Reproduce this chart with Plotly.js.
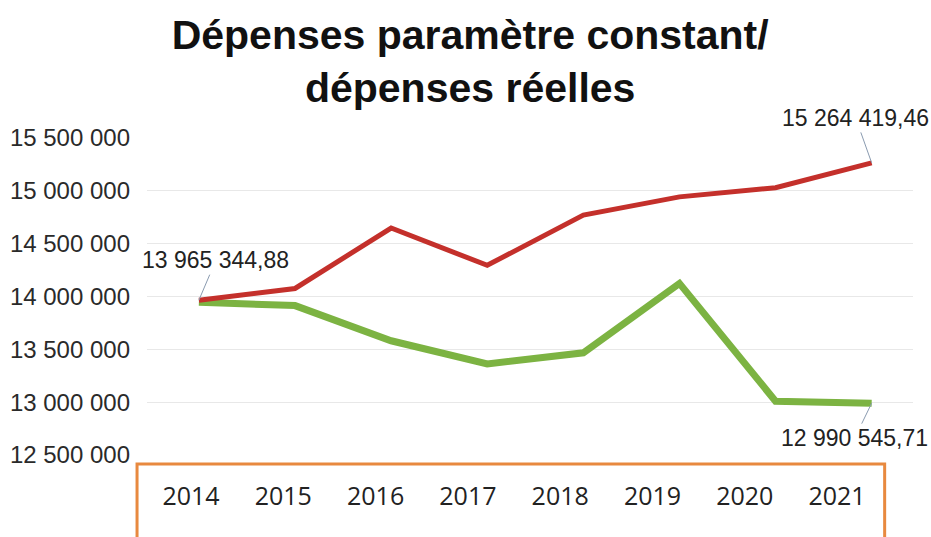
<!DOCTYPE html>
<html>
<head>
<meta charset="utf-8">
<script src="https://cdn.plot.ly/plotly-3.0.1.min.js"></script>
<style>html,body{margin:0;padding:0;background:#fff;}#chart{width:931px;height:537px;}</style>
</head>
<body>
<div id="chart"></div>
<script>
const years = ["2014","2015","2016","2017","2018","2019","2020","2021"];
const depensesReelles = [13965344.88, 14076000, 14648000, 14295000, 14771000, 14943000, 15029000, 15264419.46];
const depensesParamConstant = [13945000, 13914000, 13581000, 13362000, 13467000, 14124000, 13009000, 12990545.71];
const yTicks = [12500000, 13000000, 13500000, 14000000, 14500000, 15000000, 15500000];
const labelFirst = "13 965 344,88";
const labelRedLast = "15 264 419,46";
const labelGreenLast = "12 990 545,71";

const traces = [
  {x: years, y: depensesParamConstant, type: "scatter", mode: "lines",
   line: {color: "#7cb342", width: 7}, hoverinfo: "skip", showlegend: false},
  {x: years, y: depensesReelles, type: "scatter", mode: "lines",
   line: {color: "#c4302b", width: 5}, hoverinfo: "skip", showlegend: false},
  {x: years, y: years.map(() => null), xaxis: "x2", type: "scatter", mode: "lines",
   hoverinfo: "skip", showlegend: false}
];

const annFont = {family: "Liberation Sans, Arial, sans-serif", size: 23, color: "#222"};
const iFirst = 0, iLast = years.length - 1;
const layout = {
  width: 931, height: 537,
  margin: {l: 147, r: 18, t: 138, b: 82},
  paper_bgcolor: "#fff", plot_bgcolor: "#fff",
  separators: ", ",
  title: {
    text: "<b>Dépenses paramètre constant/<br>dépenses réelles</b>",
    font: {family: "Liberation Sans, Arial, sans-serif", size: 41, color: "#111"},
    xref: "container", x: 0.505, xanchor: "center",
    yref: "container", y: 0.909, yanchor: "top"
  },
  xaxis: {
    type: "category", range: [-0.54, 7.43],
    showticklabels: false, showgrid: false, zeroline: false, showline: false, ticks: ""
  },
  xaxis2: {
    type: "category", overlaying: "x", anchor: "y", side: "bottom",
    range: [-0.477, 7.823],
    showgrid: false, zeroline: false, showline: false, ticks: "",
    tickfont: {family: "Open Sans, sans-serif", size: 25, color: "#222"},
    ticklabelstandoff: 24
  },
  yaxis: {
    range: [12500000, 15500000],
    tickvals: yTicks, tickformat: ",d",
    showgrid: true, gridcolor: "#e8e8e8", gridwidth: 1,
    zeroline: false, showline: false, ticks: "",
    tickfont: {family: "Liberation Sans, Arial, sans-serif", size: 24, color: "#2a2a2a"},
    ticklabelstandoff: 16
  },
  shapes: [
    {type: "rect", xref: "paper", yref: "paper",
     x0: -0.013, x1: 0.963, y0: -0.028, y1: -0.35,
     line: {color: "#e8893f", width: 3}, fillcolor: "rgba(0,0,0,0)", layer: "above"}
  ],
  annotations: [
    {xref: "x", yref: "y", x: iFirst, y: depensesReelles[iFirst], text: labelFirst, showarrow: true, arrowhead: 0,
     arrowwidth: 1, arrowcolor: "#8a9bb0", ax: 17, ay: -40, font: annFont},
    {xref: "x", yref: "y", x: iLast, y: depensesReelles[iLast], text: labelRedLast, showarrow: true, arrowhead: 0,
     arrowwidth: 1, arrowcolor: "#8a9bb0", ax: -16, ay: -45, font: annFont},
    {xref: "x", yref: "y", x: iLast, y: depensesParamConstant[iLast], text: labelGreenLast, showarrow: true, arrowhead: 0,
     arrowwidth: 1, arrowcolor: "#8a9bb0", ax: -17, ay: 35, font: annFont}
  ]
};

Plotly.newPlot("chart", traces, layout, {staticPlot: true, displayModeBar: false});
</script>
</body>
</html>
